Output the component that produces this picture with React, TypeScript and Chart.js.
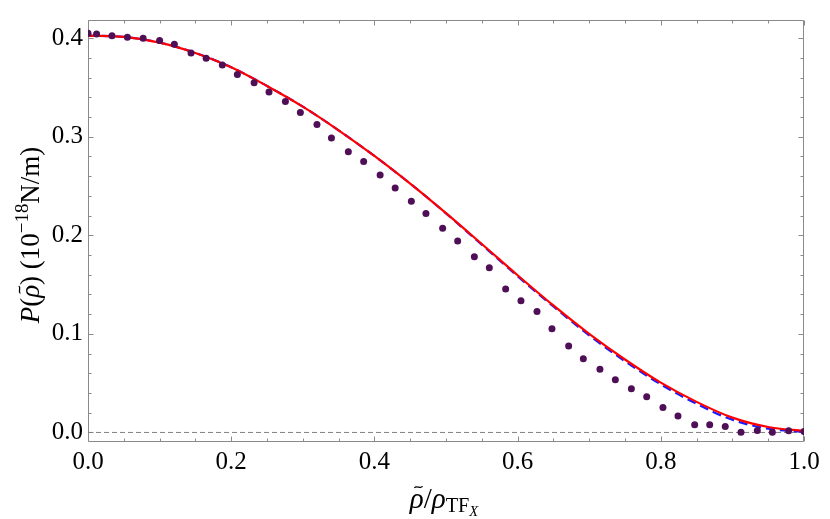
import React, { useEffect, useRef } from "react";
import { Chart, registerables } from "chart.js";

Chart.register(...registerables);

// ---- data ----
const dotX = [
  0, 0.012, 0.0335, 0.055, 0.077, 0.1, 0.1206, 0.1439, 0.165, 0.1876, 0.2086, 0.232,
  0.2528, 0.2757, 0.2966, 0.3198, 0.34, 0.3636, 0.385, 0.408, 0.429, 0.4516, 0.472,
  0.4953, 0.5163, 0.5396, 0.5605, 0.5833, 0.6047, 0.6271, 0.648, 0.6713, 0.6918,
  0.715, 0.7365, 0.7589, 0.7803, 0.803, 0.824, 0.8473, 0.8683, 0.89, 0.912, 0.9348,
  0.9558, 0.9786, 1.0,
];
const dotY = [
  0.4049, 0.4042, 0.4023, 0.401, 0.4, 0.3977, 0.3938, 0.3848, 0.3796, 0.3728, 0.3631,
  0.3547, 0.3453, 0.3356, 0.3246, 0.3123, 0.2987, 0.2848, 0.2748, 0.2612, 0.2479,
  0.2346, 0.222, 0.2071, 0.1942, 0.1783, 0.167, 0.1456, 0.1337, 0.1226, 0.1052,
  0.0877, 0.0748, 0.0641, 0.0534, 0.0443, 0.0362, 0.0252, 0.0168, 0.0078, 0.0078,
  0.0061, 0.0003, 0.0019, 0.0003, 0.0016, 0.001,
];
const curveX = [
  0, 0.05, 0.1, 0.15, 0.2, 0.25, 0.3, 0.35, 0.4, 0.45, 0.5, 0.55, 0.6, 0.65, 0.7, 0.75,
  0.8, 0.85, 0.9, 0.95, 1.0,
];
const redY = [
  0.4025, 0.4012, 0.3955, 0.385, 0.3705, 0.3515, 0.3305, 0.3065, 0.2805, 0.2525,
  0.2225, 0.1912, 0.1595, 0.1288, 0.1, 0.074, 0.0505, 0.031, 0.015, 0.0055, 0.0015,
];
const blueY = [
  0.4025, 0.4012, 0.3955, 0.385, 0.3705, 0.3515, 0.3305, 0.3065, 0.2805, 0.2525,
  0.2222, 0.1905, 0.1585, 0.1278, 0.0985, 0.0722, 0.0488, 0.029, 0.0128, 0.0038, 0.0005,
];
const zeroX = [0, 1];
const zeroY = [0, 0];

const xTicks = [0, 0.2, 0.4, 0.6, 0.8, 1.0];
const yTicks = [0, 0.1, 0.2, 0.3, 0.4];
const xMinor = [0.05, 0.1, 0.15, 0.25, 0.3, 0.35, 0.45, 0.5, 0.55, 0.65, 0.7, 0.75, 0.85, 0.9, 0.95];
const yMinor = [
  0.02, 0.04, 0.06, 0.08, 0.12, 0.14, 0.16, 0.18, 0.22, 0.24, 0.26, 0.28, 0.32, 0.34,
  0.36, 0.38,
];

const SERIF = '"Liberation Serif", "Times New Roman", serif';
const FRAME = "#8a8a8a";

type Seg = { t: string; it?: boolean; s?: number; dy?: number; tilde?: boolean };

function drawRich(ctx: CanvasRenderingContext2D, segs: Seg[], size: number, cx: number, cy: number, rot: number) {
  const fontOf = (g: Seg) =>
    `${g.it ? "italic " : ""}${Math.round(size * (g.s || 1) * 10) / 10}px ${SERIF}`;
  const widths = segs.map((g) => {
    ctx.font = fontOf(g);
    return ctx.measureText(g.t).width;
  });
  const total = widths.reduce((a, b) => a + b, 0);
  ctx.save();
  ctx.translate(cx, cy);
  ctx.rotate(rot);
  ctx.fillStyle = "#000";
  ctx.textBaseline = "alphabetic";
  ctx.textAlign = "left";
  let x = -total / 2;
  segs.forEach((g, i) => {
    ctx.font = fontOf(g);
    const dy = (g.dy || 0) * size;
    ctx.fillText(g.t, x, dy);
    if (g.tilde) {
      const c = x + widths[i] / 2 + size * 0.06;
      const w = size * 0.28;
      const yb = dy - size * 0.72;
      const a = size * 0.05;
      ctx.beginPath();
      ctx.lineWidth = 1.3;
      ctx.strokeStyle = "#000";
      ctx.moveTo(c - w / 2, yb + a * 0.6);
      ctx.bezierCurveTo(c - w / 4, yb - a * 1.6, c + w / 4, yb + a * 1.6, c + w / 2, yb - a * 0.6);
      ctx.stroke();
    }
    x += widths[i];
  });
  ctx.restore();
}

const framePlugin = {
  id: "mmaFrame",
  beforeDatasetsDraw(chart: any) {
    const { ctx, chartArea: a, scales } = chart;
    const xs = scales.x;
    const ys = scales.y;
    ctx.save();
    ctx.strokeStyle = FRAME;
    ctx.lineWidth = 1;
    const L = Math.round(a.left) + 0.5;
    const R = Math.round(a.right) - 0.5;
    const T = Math.round(a.top) + 0.5;
    const B = Math.round(a.bottom) - 0.5;
    ctx.beginPath();
    ctx.rect(L, T, R - L, B - T);
    ctx.stroke();
    const tickX = (v: number, len: number) => {
      const p = Math.round(xs.getPixelForValue(v)) + 0.5;
      ctx.moveTo(p, B);
      ctx.lineTo(p, B - len);
      ctx.moveTo(p, T);
      ctx.lineTo(p, T + len);
    };
    const tickY = (v: number, len: number) => {
      const p = Math.round(ys.getPixelForValue(v)) + 0.5;
      ctx.moveTo(L, p);
      ctx.lineTo(L + len, p);
      ctx.moveTo(R, p);
      ctx.lineTo(R - len, p);
    };
    ctx.beginPath();
    xTicks.forEach((v) => tickX(v, 5));
    xMinor.forEach((v) => tickX(v, 3));
    yTicks.forEach((v) => tickY(v, 5));
    yMinor.forEach((v) => tickY(v, 3));
    ctx.stroke();
    ctx.restore();
  },
  afterDraw(chart: any) {
    const { ctx, chartArea: a } = chart;
    const ySegs: Seg[] = [
      { t: "P", it: true },
      { t: "(" },
      { t: "ρ", it: true, tilde: true },
      { t: ")" },
      { t: " (" },
      { t: "10" },
      { t: "−18", s: 0.7, dy: -0.42 },
      { t: "N/m)" },
    ];
    drawRich(ctx, ySegs, 27, 39, (a.top + a.bottom) / 2 + 4, -Math.PI / 2);
    const xSegs: Seg[] = [
      { t: "ρ", it: true, tilde: true },
      { t: "/" },
      { t: "ρ", it: true },
      { t: "TF", s: 0.7, dy: 0.14 },
      { t: "X", it: true, s: 0.5, dy: 0.28 },
    ];
    drawRich(ctx, xSegs, 29, 444, 508, 0);
  },
};

export default function App() {
  const ref = useRef<HTMLCanvasElement | null>(null);
  useEffect(() => {
    document.body.style.margin = "0";
    const canvas = ref.current;
    if (!canvas) return;
    const pts = (xs: number[], ys: number[]) => xs.map((x, i) => ({ x, y: ys[i] }));
    const chart = new Chart(canvas, {
      type: "scatter",
      data: {
        datasets: [
          {
            label: "dots",
            data: pts(dotX, dotY),
            showLine: false,
            pointRadius: 3.5,
            pointBackgroundColor: "#4f0f57",
            pointBorderWidth: 0,
            pointBorderColor: "#4f0f57",
            clip: 0,
          } as any,
          {
            label: "red",
            data: pts(curveX, redY),
            showLine: true,
            borderColor: "#ff0000",
            borderWidth: 2.2,
            pointRadius: 0,
            cubicInterpolationMode: "monotone",
            clip: 0,
          } as any,
          {
            label: "blue",
            data: pts(curveX, blueY),
            showLine: true,
            borderColor: "#1a1aff",
            borderWidth: 2.2,
            borderDash: [9, 5],
            pointRadius: 0,
            cubicInterpolationMode: "monotone",
            clip: 0,
          } as any,
          {
            label: "zero",
            data: pts(zeroX, zeroY),
            showLine: true,
            borderColor: "#808080",
            borderWidth: 1,
            borderDash: [5, 3],
            pointRadius: 0,
            clip: 0,
          } as any,
        ],
      },
      options: {
        animation: false,
        responsive: true,
        maintainAspectRatio: false,
        layout: { padding: { left: 0, right: 26, top: 1, bottom: 0 } },
        plugins: { legend: { display: false }, tooltip: { enabled: false } },
        events: [],
        scales: {
          x: {
            type: "linear",
            min: 0,
            max: 1,
            afterBuildTicks: (s: any) => {
              s.ticks = xTicks.map((v) => ({ value: v }));
            },
            afterFit: (s: any) => {
              s.height = 77;
            },
            ticks: {
              callback: (v: any) => Number(v).toFixed(1),
              font: { family: SERIF, size: 25 },
              color: "#000",
              padding: 5,
              maxRotation: 0,
              autoSkip: false,
            },
            grid: { display: false, drawTicks: false },
            border: { display: false },
          },
          y: {
            type: "linear",
            min: -0.0097,
            max: 0.4184,
            afterBuildTicks: (s: any) => {
              s.ticks = yTicks.map((v) => ({ value: v }));
            },
            afterFit: (s: any) => {
              s.width = 88;
            },
            ticks: {
              callback: (v: any) => Number(v).toFixed(1),
              font: { family: SERIF, size: 25 },
              color: "#000",
              padding: 5,
              autoSkip: false,
            },
            grid: { display: false, drawTicks: false },
            border: { display: false },
          },
        },
      } as any,
      plugins: [framePlugin],
    });
    return () => chart.destroy();
  }, []);
  return (
    <div style={{ width: 830, height: 519, position: "relative" }}>
      <canvas ref={ref} />
    </div>
  );
}
